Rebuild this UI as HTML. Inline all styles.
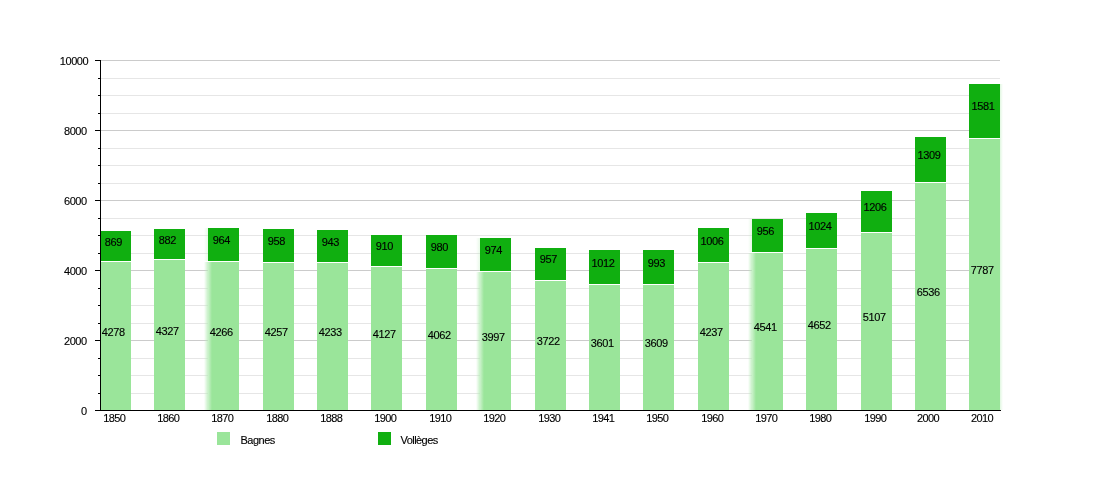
<!DOCTYPE html>
<html><head><meta charset="utf-8"><title>Bagnes / Vollèges</title>
<style>
html,body{margin:0;padding:0;background:#fff;}
svg{display:block}
text{font-family:"Liberation Sans",sans-serif;font-size:11px;fill:#000;stroke:#000;stroke-width:0.12px;letter-spacing:-0.4px}
.g rect,.g line{shape-rendering:crispEdges}
</style></head><body>
<svg width="1100" height="500" viewBox="0 0 1100 500">
<rect x="0" y="0" width="1100" height="500" fill="#fff"/>
<defs><linearGradient id="gl" x1="0" x2="1" y1="0" y2="0"><stop offset="0" stop-color="#b4ecb4" stop-opacity="0"/><stop offset="1" stop-color="#b4ecb4" stop-opacity="0.75"/></linearGradient><linearGradient id="gw" x1="0" x2="1" y1="0" y2="0"><stop offset="0" stop-color="#fff" stop-opacity="0.5"/><stop offset="1" stop-color="#fff" stop-opacity="0"/></linearGradient><linearGradient id="gr" x1="0" x2="1" y1="0" y2="0"><stop offset="0" stop-color="#b4ecb4" stop-opacity="0.4"/><stop offset="1" stop-color="#b4ecb4" stop-opacity="0"/></linearGradient></defs>
<g class="g">
<rect x="101" y="393" width="899" height="1" fill="#e6e6e6"/>
<rect x="101" y="375" width="899" height="1" fill="#e6e6e6"/>
<rect x="101" y="358" width="899" height="1" fill="#e6e6e6"/>
<rect x="101" y="340" width="899" height="1" fill="#cbcbcb"/>
<rect x="101" y="323" width="899" height="1" fill="#e6e6e6"/>
<rect x="101" y="305" width="899" height="1" fill="#e6e6e6"/>
<rect x="101" y="288" width="899" height="1" fill="#e6e6e6"/>
<rect x="101" y="270" width="899" height="1" fill="#cbcbcb"/>
<rect x="101" y="253" width="899" height="1" fill="#e6e6e6"/>
<rect x="101" y="235" width="899" height="1" fill="#e6e6e6"/>
<rect x="101" y="218" width="899" height="1" fill="#e6e6e6"/>
<rect x="101" y="200" width="899" height="1" fill="#cbcbcb"/>
<rect x="101" y="183" width="899" height="1" fill="#e6e6e6"/>
<rect x="101" y="165" width="899" height="1" fill="#e6e6e6"/>
<rect x="101" y="148" width="899" height="1" fill="#e6e6e6"/>
<rect x="101" y="130" width="899" height="1" fill="#cbcbcb"/>
<rect x="101" y="113" width="899" height="1" fill="#e6e6e6"/>
<rect x="101" y="95" width="899" height="1" fill="#e6e6e6"/>
<rect x="101" y="78" width="899" height="1" fill="#e6e6e6"/>
<rect x="101" y="60" width="899" height="1" fill="#cbcbcb"/>
<rect x="100" y="262" width="31" height="148" fill="#9ae59a"/><rect x="100" y="231" width="31" height="30" fill="#10af10"/>
<rect x="154" y="260" width="31" height="150" fill="#9ae59a"/><rect x="154" y="229" width="31" height="30" fill="#10af10"/>
<rect x="208" y="262" width="31" height="148" fill="#9ae59a"/><rect x="208" y="228" width="31" height="33" fill="#10af10"/>
<rect x="204" y="262" width="4" height="148" fill="url(#gl)"/><rect x="204" y="228" width="4" height="33" fill="url(#gl)" opacity="0.4"/><rect x="208" y="262" width="4" height="148" fill="url(#gw)"/>
<rect x="263" y="263" width="31" height="147" fill="#9ae59a"/><rect x="263" y="229" width="31" height="33" fill="#10af10"/>
<rect x="317" y="263" width="31" height="147" fill="#9ae59a"/><rect x="317" y="230" width="31" height="32" fill="#10af10"/>
<rect x="371" y="267" width="31" height="143" fill="#9ae59a"/><rect x="371" y="235" width="31" height="31" fill="#10af10"/>
<rect x="426" y="269" width="31" height="141" fill="#9ae59a"/><rect x="426" y="235" width="31" height="33" fill="#10af10"/>
<rect x="480" y="272" width="31" height="138" fill="#9ae59a"/><rect x="480" y="238" width="31" height="33" fill="#10af10"/>
<rect x="476" y="272" width="4" height="138" fill="url(#gl)"/><rect x="476" y="238" width="4" height="33" fill="url(#gl)" opacity="0.4"/><rect x="480" y="272" width="4" height="138" fill="url(#gw)"/>
<rect x="535" y="281" width="31" height="129" fill="#9ae59a"/><rect x="535" y="248" width="31" height="32" fill="#10af10"/>
<rect x="589" y="285" width="31" height="125" fill="#9ae59a"/><rect x="589" y="250" width="31" height="34" fill="#10af10"/>
<rect x="643" y="285" width="31" height="125" fill="#9ae59a"/><rect x="643" y="250" width="31" height="34" fill="#10af10"/>
<rect x="698" y="263" width="31" height="147" fill="#9ae59a"/><rect x="698" y="228" width="31" height="34" fill="#10af10"/>
<rect x="752" y="253" width="31" height="157" fill="#9ae59a"/><rect x="752" y="219" width="31" height="33" fill="#10af10"/>
<rect x="748" y="253" width="4" height="157" fill="url(#gl)"/><rect x="748" y="219" width="4" height="33" fill="url(#gl)" opacity="0.4"/><rect x="752" y="253" width="4" height="157" fill="url(#gw)"/>
<rect x="806" y="249" width="31" height="161" fill="#9ae59a"/><rect x="806" y="213" width="31" height="35" fill="#10af10"/>
<rect x="861" y="233" width="31" height="177" fill="#9ae59a"/><rect x="861" y="191" width="31" height="41" fill="#10af10"/>
<rect x="915" y="183" width="31" height="227" fill="#9ae59a"/><rect x="915" y="137" width="31" height="45" fill="#10af10"/>
<rect x="969" y="139" width="31" height="271" fill="#9ae59a"/><rect x="969" y="84" width="31" height="54" fill="#10af10"/>
<rect x="1000" y="84" width="3" height="326" fill="url(#gr)"/>
<rect x="100" y="60" width="1" height="351" fill="#000"/>
<rect x="95" y="410" width="906" height="1" fill="#000"/>
<rect x="98" y="393" width="2" height="1" fill="#000"/><rect x="98" y="375" width="2" height="1" fill="#000"/><rect x="98" y="358" width="2" height="1" fill="#000"/><rect x="95" y="340" width="5" height="1" fill="#000"/><rect x="98" y="323" width="2" height="1" fill="#000"/><rect x="98" y="305" width="2" height="1" fill="#000"/><rect x="98" y="288" width="2" height="1" fill="#000"/><rect x="95" y="270" width="5" height="1" fill="#000"/><rect x="98" y="253" width="2" height="1" fill="#000"/><rect x="98" y="235" width="2" height="1" fill="#000"/><rect x="98" y="218" width="2" height="1" fill="#000"/><rect x="95" y="200" width="5" height="1" fill="#000"/><rect x="98" y="183" width="2" height="1" fill="#000"/><rect x="98" y="165" width="2" height="1" fill="#000"/><rect x="98" y="148" width="2" height="1" fill="#000"/><rect x="95" y="130" width="5" height="1" fill="#000"/><rect x="98" y="113" width="2" height="1" fill="#000"/><rect x="98" y="95" width="2" height="1" fill="#000"/><rect x="98" y="78" width="2" height="1" fill="#000"/><rect x="95" y="60" width="5" height="1" fill="#000"/>
<rect x="217" y="432" width="13" height="13" fill="#9ae59a"/>
<rect x="378" y="432" width="13" height="13" fill="#10af10"/>
</g>
<g>
<text x="86.8" y="415" text-anchor="end">0</text>
<text x="86.8" y="345" text-anchor="end">2000</text>
<text x="86.8" y="275" text-anchor="end">4000</text>
<text x="86.8" y="205" text-anchor="end">6000</text>
<text x="86.8" y="135" text-anchor="end">8000</text>
<text x="88.3" y="65" text-anchor="end">10000</text>
<text x="114.2" y="422" text-anchor="middle" style="letter-spacing:-0.6px">1850</text><text x="113.3" y="336" text-anchor="middle">4278</text><text x="113.3" y="246" text-anchor="middle">869</text>
<text x="168.2" y="422" text-anchor="middle" style="letter-spacing:-0.6px">1860</text><text x="167.3" y="335" text-anchor="middle">4327</text><text x="167.3" y="244" text-anchor="middle">882</text>
<text x="222.2" y="422" text-anchor="middle" style="letter-spacing:-0.6px">1870</text><text x="221.3" y="336" text-anchor="middle">4266</text><text x="221.3" y="244" text-anchor="middle">964</text>
<text x="277.2" y="422" text-anchor="middle" style="letter-spacing:-0.6px">1880</text><text x="276.3" y="336" text-anchor="middle">4257</text><text x="276.3" y="245" text-anchor="middle">958</text>
<text x="331.2" y="422" text-anchor="middle" style="letter-spacing:-0.6px">1888</text><text x="330.3" y="336" text-anchor="middle">4233</text><text x="330.3" y="246" text-anchor="middle">943</text>
<text x="385.2" y="422" text-anchor="middle" style="letter-spacing:-0.6px">1900</text><text x="384.3" y="338" text-anchor="middle">4127</text><text x="384.3" y="250" text-anchor="middle">910</text>
<text x="440.2" y="422" text-anchor="middle" style="letter-spacing:-0.6px">1910</text><text x="439.3" y="339" text-anchor="middle">4062</text><text x="439.3" y="251" text-anchor="middle">980</text>
<text x="494.2" y="422" text-anchor="middle" style="letter-spacing:-0.6px">1920</text><text x="493.3" y="341" text-anchor="middle">3997</text><text x="493.3" y="254" text-anchor="middle">974</text>
<text x="549.2" y="422" text-anchor="middle" style="letter-spacing:-0.6px">1930</text><text x="548.3" y="345" text-anchor="middle">3722</text><text x="548.3" y="263" text-anchor="middle">957</text>
<text x="603.2" y="422" text-anchor="middle" style="letter-spacing:-0.6px">1941</text><text x="602.3" y="347" text-anchor="middle">3601</text><text x="603.0" y="267" text-anchor="middle">1012</text>
<text x="657.2" y="422" text-anchor="middle" style="letter-spacing:-0.6px">1950</text><text x="656.3" y="347" text-anchor="middle">3609</text><text x="656.3" y="267" text-anchor="middle">993</text>
<text x="712.2" y="422" text-anchor="middle" style="letter-spacing:-0.6px">1960</text><text x="711.3" y="336" text-anchor="middle">4237</text><text x="712.0" y="245" text-anchor="middle">1006</text>
<text x="766.2" y="422" text-anchor="middle" style="letter-spacing:-0.6px">1970</text><text x="765.3" y="331" text-anchor="middle">4541</text><text x="765.3" y="235" text-anchor="middle">956</text>
<text x="820.2" y="422" text-anchor="middle" style="letter-spacing:-0.6px">1980</text><text x="819.3" y="329" text-anchor="middle">4652</text><text x="820.0" y="230" text-anchor="middle">1024</text>
<text x="875.2" y="422" text-anchor="middle" style="letter-spacing:-0.6px">1990</text><text x="874.3" y="321" text-anchor="middle">5107</text><text x="875.0" y="211" text-anchor="middle">1206</text>
<text x="928.0" y="422" text-anchor="middle" style="letter-spacing:-0.6px">2000</text><text x="928.3" y="296" text-anchor="middle">6536</text><text x="929.0" y="159" text-anchor="middle">1309</text>
<text x="982.0" y="422" text-anchor="middle" style="letter-spacing:-0.6px">2010</text><text x="982.3" y="274" text-anchor="middle">7787</text><text x="983.0" y="110" text-anchor="middle">1581</text>
<text x="240.5" y="444" style="letter-spacing:-0.5px">Bagnes</text>
<text x="400.5" y="444" style="letter-spacing:-0.55px">Vollèges</text>
</g>
</svg>
</body></html>
